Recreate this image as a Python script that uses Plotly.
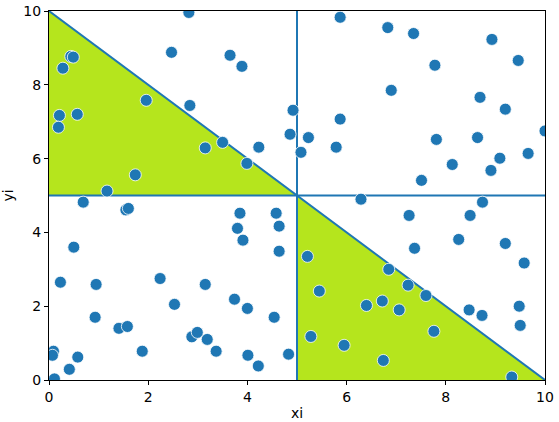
import plotly.graph_objects as go

xi = [2.82, 0.44, 0.49, 0.28, 2.47, 3.65, 3.89, 1.96, 2.84, 0.21, 0.57, 0.19, 4.92, 4.86,
      3.50, 3.15, 4.23, 3.99, 1.74, 1.17, 0.69, 5.08,
      5.87, 6.83, 7.35, 8.93, 9.46, 7.78, 6.90, 8.69, 9.20, 5.87, 5.23, 5.79, 7.81, 8.64,
      10.0, 9.09, 9.66, 8.13, 8.91, 7.51,
      6.29, 8.74, 7.26, 8.49, 8.26, 9.20, 7.37, 9.58, 5.21, 6.85, 7.24, 7.60, 5.45, 6.40,
      6.72, 7.06, 8.47, 8.73, 9.48, 9.50, 7.76, 5.28, 5.95, 6.74, 9.33,
      1.55, 1.60, 3.85, 4.58, 3.80, 4.64, 3.91, 4.64, 0.50, 0.23, 0.95, 2.24, 3.15, 3.74,
      2.53, 4.00, 0.93, 4.54, 1.41, 1.58, 2.88, 2.99, 3.19, 1.88, 3.37, 4.01, 4.83, 4.22,
      0.09, 0.07, 0.58, 0.41, 0.11]
yi = [9.96, 8.77, 8.75, 8.45, 8.88, 8.80, 8.50, 7.58, 7.44, 7.17, 7.20, 6.85, 7.31, 6.66,
      6.44, 6.29, 6.31, 5.87, 5.56, 5.12, 4.82, 6.17,
      9.83, 9.55, 9.39, 9.23, 8.66, 8.53, 7.85, 7.66, 7.34, 7.07, 6.57, 6.31, 6.52, 6.57,
      6.75, 6.01, 6.14, 5.84, 5.68, 5.41,
      4.90, 4.82, 4.46, 4.46, 3.81, 3.70, 3.57, 3.17, 3.35, 3.00, 2.57, 2.29, 2.41, 2.02,
      2.14, 1.90, 1.90, 1.75, 2.00, 1.48, 1.32, 1.18, 0.94, 0.53, 0.08,
      4.61, 4.65, 4.52, 4.52, 4.11, 4.17, 3.79, 3.49, 3.60, 2.65, 2.59, 2.75, 2.59, 2.19,
      2.05, 1.94, 1.70, 1.70, 1.40, 1.45, 1.17, 1.29, 1.10, 0.78, 0.78, 0.67, 0.70, 0.38,
      0.78, 0.67, 0.62, 0.29, 0.03]

tri1_x = [0, 0, 5, 0]
tri1_y = [5, 10, 5, 5]
tri2_x = [5, 5, 10, 5]
tri2_y = [0, 5, 0, 0]

blue = "#1f77b4"
fillc = "rgb(181,229,29)"

fig = go.Figure()
for tx, ty in [(tri1_x, tri1_y), (tri2_x, tri2_y)]:
    fig.add_trace(go.Scatter(x=tx, y=ty, mode="lines", fill="toself", fillcolor=fillc,
                             line=dict(width=0), hoverinfo="skip"))
fig.add_trace(go.Scatter(x=[0, 10], y=[5, 5], mode="lines", line=dict(color=blue, width=2)))
fig.add_trace(go.Scatter(x=[5, 5], y=[0, 10], mode="lines", line=dict(color=blue, width=2)))
fig.add_trace(go.Scatter(x=[0, 10], y=[10, 0], mode="lines", line=dict(color=blue, width=2)))
fig.add_trace(go.Scatter(x=xi, y=yi, mode="markers",
                         marker=dict(color=blue, size=12, line=dict(color="white", width=0.8))))

axis_common = dict(range=[0, 10], showgrid=False, zeroline=False, showline=True,
                   linecolor="black", linewidth=1, mirror=True, ticks="outside",
                   ticklen=4, tickcolor="black", tickvals=[0, 2, 4, 6, 8, 10],
                   automargin=False,
                   tickfont=dict(family="DejaVu Sans", size=14, color="black"))
fig.update_layout(
    width=559, height=422,
    margin=dict(l=49, r=14, t=11, b=42),
    plot_bgcolor="white", paper_bgcolor="white",
    showlegend=False,
    xaxis=dict(**axis_common, title=dict(text="xi", standoff=4,
               font=dict(family="DejaVu Sans", size=14, color="black"))),
    yaxis=dict(**axis_common, title=dict(text="yi", standoff=6,
               font=dict(family="DejaVu Sans", size=14, color="black"))),
)
fig.write_html("out.html", config={"displayModeBar": False},
               post_script="document.body.style.margin='0';document.body.style.padding='0';")
